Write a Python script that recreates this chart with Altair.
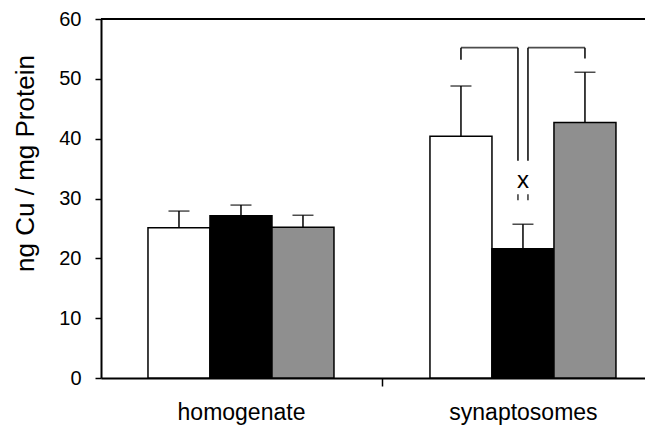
import altair as alt
import pandas as pd

# ---- data ----
group_names = ["homogenate", "synaptosomes"]
cond_names = ["Gruppe 1", "Gruppe 2", "Gruppe 3"]
homogenate_means = [25.1, 27.1, 25.2]
synaptosome_means = [40.4, 21.6, 42.7]
homogenate_err = [2.8, 1.8, 2.0]
synaptosome_err = [8.4, 4.1, 8.4]
y_ticks = [0, 10, 20, 30, 40, 50, 60]
y_title = "ng Cu / mg Protein"

bracket_top = 55.2
bracket_outer_ends = [53.2, 53.4]
bracket_inner_end = 36.3
sig_label = "x"
sig_label_y = 33.0
sig_dash = [29.7, 30.7]

# ---- tables ----
rows = []
for g, means, errs in [(group_names[0], homogenate_means, homogenate_err),
                       (group_names[1], synaptosome_means, synaptosome_err)]:
    for c, m, e in zip(cond_names, means, errs):
        rows.append({"group": g, "cond": c, "value": m, "top": m + e})
df = pd.DataFrame(rows)

syn = group_names[1]
outer_legs = pd.DataFrame({"group": [syn, syn], "cond": [cond_names[0], cond_names[2]],
                           "y": bracket_outer_ends, "y2": [bracket_top, bracket_top]})
inner_leg = pd.DataFrame({"group": [syn], "y": [bracket_inner_end], "y2": [bracket_top]})
bracket_h = pd.DataFrame({"group": [syn], "y": [bracket_top]})
label_df = pd.DataFrame({"group": [syn], "y": [sig_label_y], "t": [sig_label]})
dash_df = pd.DataFrame({"group": [syn], "y": [sig_dash[0]], "y2": [sig_dash[1]]})

FONT = "Liberation Sans"

xscale = alt.Scale(domain=group_names, paddingInner=0.3404, paddingOuter=0.1348, align=0.618)
xaxis = alt.Axis(title=None, domain=True, domainColor="black", domainWidth=2,
                 ticks=True, tickColor="black", tickWidth=1.5, tickSize=8,
                 tickOffset=141, labelOffset=-141,
                 labelFont=FONT, labelFontSize=23, labelColor="black",
                 labelBaseline="alphabetic", labelPadding=33, labelAngle=0)
yscale = alt.Scale(domain=[0, 60], nice=False)
yaxis = alt.Axis(values=y_ticks, title=y_title, grid=False, domain=True,
                 domainColor="black", domainWidth=2, tickColor="black", tickWidth=1.5,
                 tickSize=6, labelFont=FONT, labelFontSize=20, labelColor="black",
                 labelPadding=14, titleFont=FONT, titleFontSize=26, titleFontWeight="normal",
                 titleColor="black", titleX=-68, titleY=144, titleBaseline="alphabetic",
                 titleAngle=-90, titleAlign="center")

def X():
    return alt.X("group:N", scale=xscale, axis=xaxis)

def XO():
    return alt.XOffset("cond:N", scale=alt.Scale(domain=cond_names, paddingInner=0, paddingOuter=0))

def Y(field):
    return alt.Y(field, scale=yscale, axis=yaxis)

bars = alt.Chart(df).mark_bar(stroke="black", strokeWidth=1.5).encode(
    x=X(), xOffset=XO(), y=Y("value:Q"),
    color=alt.Color("cond:N", scale=alt.Scale(domain=cond_names, range=["white", "black", "#8f8f8f"]), legend=None),
)
err_line = alt.Chart(df).mark_rule(color="black", strokeWidth=1.5).encode(
    x=X(), xOffset=XO(), y=Y("value:Q"), y2="top:Q")
err_cap = alt.Chart(df).mark_tick(color="black", size=21, thickness=1.5).encode(
    x=X(), xOffset=XO(), y=Y("top:Q"))

top_line = alt.Chart(df).mark_rule(color="black", strokeWidth=1.5).encode(
    y=alt.Y(datum=60, scale=yscale, axis=yaxis))

# pixel offsets below are measured from the start of the group's band
legs = alt.Chart(outer_legs).mark_rule(color="black", strokeWidth=1.5).encode(
    x=X(), xOffset=XO(), y=Y("y:Q"), y2="y2:Q")
inner_l = alt.Chart(inner_leg).mark_rule(color="black", strokeWidth=1.5).encode(
    x=X(), xOffset=alt.XOffset(value=88), y=Y("y:Q"), y2="y2:Q")
inner_r = alt.Chart(inner_leg).mark_rule(color="black", strokeWidth=1.5).encode(
    x=X(), xOffset=alt.XOffset(value=98), y=Y("y:Q"), y2="y2:Q")
h_left = alt.Chart(bracket_h).mark_tick(color="black", size=57, thickness=1.8).encode(
    x=X(), xOffset=alt.XOffset(value=59.5), y=Y("y:Q"))
h_right = alt.Chart(bracket_h).mark_tick(color="black", size=57, thickness=1.8).encode(
    x=X(), xOffset=alt.XOffset(value=126.5), y=Y("y:Q"))
sig_text = alt.Chart(label_df).mark_text(font=FONT, fontSize=24, color="black", baseline="middle").encode(
    x=X(), y=Y("y:Q"), text="t:N")
dash_l = alt.Chart(dash_df).mark_rule(color="black", strokeWidth=1.2).encode(
    x=X(), xOffset=alt.XOffset(value=88), y=Y("y:Q"), y2="y2:Q")
dash_r = alt.Chart(dash_df).mark_rule(color="black", strokeWidth=1.2).encode(
    x=X(), xOffset=alt.XOffset(value=98), y=Y("y:Q"), y2="y2:Q")

chart = alt.layer(
    bars, err_line, err_cap, top_line, legs, inner_l, inner_r, h_left, h_right, sig_text, dash_l, dash_r
).properties(
    width=544, height=359,
    autosize=alt.AutoSizeParams(type="none"),
    padding={"left": 93, "top": 11, "right": 0, "bottom": 47},
    background="white",
).configure_view(stroke=None)

chart.save("out.html", embed_options={"renderer": "svg", "actions": False})
